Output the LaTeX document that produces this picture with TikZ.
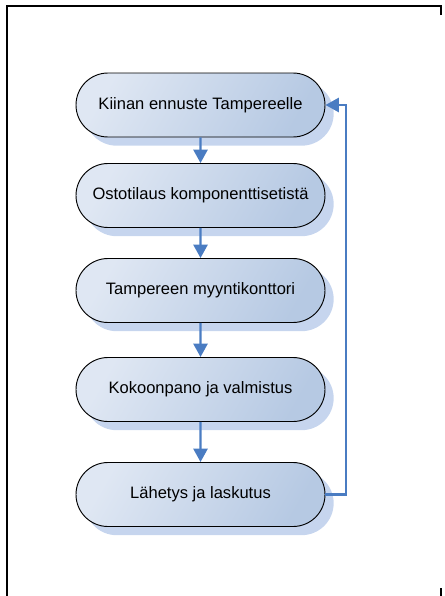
\documentclass[tikz,border=0pt]{standalone}
\usepackage{fontspec}
\setmainfont{Liberation Sans}
\usepackage{tikz}
\usetikzlibrary{arrows.meta,shapes.misc,shadows,positioning}
\usepackage{xcolor}
\definecolor{flowblue}{HTML}{4A7CC2}
\definecolor{boxlight}{HTML}{DFE7F3}
\definecolor{boxmid}{HTML}{C4D4EA}
\definecolor{boxdark}{HTML}{B6C9E3}
\definecolor{shadeblue}{HTML}{C6D5EE}

\tikzset{
  stage/.style={rounded rectangle, draw=black, line width=0.7pt,
    minimum width=186.75pt, minimum height=48pt, inner sep=0pt,
    left color=boxlight, middle color=boxmid, right color=boxdark, shading angle=60,
    font=\fontsize{12.4}{14}\selectfont,
    drop shadow={shadow xshift=6.5pt, shadow yshift=-6.5pt, fill=shadeblue, opacity=1}},
  flow/.style={draw=flowblue, line width=1.8pt, -{Triangle[length=10pt,width=10.5pt]}}
}

\begin{document}
\begin{tikzpicture}[x=0.75pt,y=-0.75pt]
  \useasboundingbox (0,0) rectangle (445,596);
  % frame round the chart
  \draw[line width=2pt] (441,15)--(441,6)--(7,6)--(7,597);
  \draw[line width=2pt] (441,588)--(441,597);
  % stages
  \node[stage] (ennuste) at (200.5,105) {Kiinan ennuste Tampereelle};
  \node[stage] (tilaus) at (200.5,195.5) {Ostotilaus komponenttisetistä};
  \node[stage] (konttori) at (200.5,290.5) {Tampereen myyntikonttori};
  \node[stage] (kokoonpano) at (200.5,389.5) {Kokoonpano ja valmistus};
  \node[stage] (lahetys) at (200.5,494.5) {Lähetys ja laskutus};
  % arrows
  \draw[flow] (ennuste)--(tilaus);
  \draw[flow] (tilaus)--(konttori);
  \draw[flow] (konttori)--(kokoonpano);
  \draw[flow] (kokoonpano)--(lahetys);
  \coordinate (paluu) at (346,0);
  \draw[flow] (lahetys.east)-|(paluu |- ennuste.east)--(ennuste.east);
\end{tikzpicture}
\end{document}
